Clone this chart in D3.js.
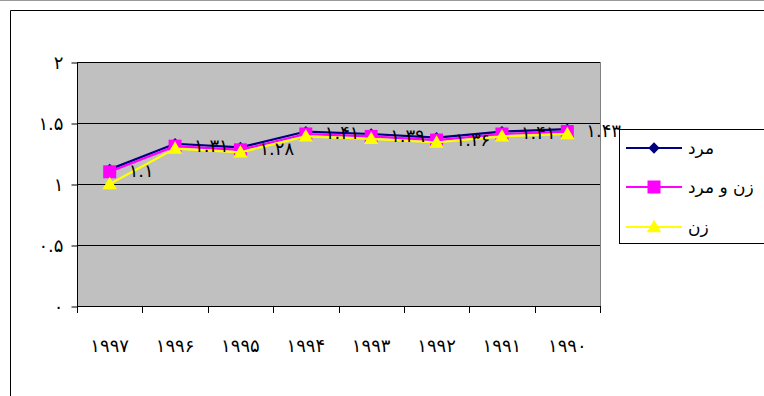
<!DOCTYPE html>
<html>
<head>
<meta charset="utf-8">
<script src="https://cdn.jsdelivr.net/npm/d3@7"></script>
<style>
  html, body { margin: 0; padding: 0; background: #fff; }
  svg { display: block; }
  text { font-family: "DejaVu Sans", sans-serif; fill: #000; }
</style>
</head>
<body>
<svg id="chart" width="764" height="396"></svg>
<script>
// Years, newest first (left to right)
const categories = ["۱۹۹۷", "۱۹۹۶", "۱۹۹۵", "۱۹۹۴", "۱۹۹۳", "۱۹۹۲", "۱۹۹۱", "۱۹۹۰"];

// Series values
const menValues   = [1.12, 1.33, 1.30, 1.43, 1.41, 1.38, 1.43, 1.45]; // مرد
const bothValues  = [1.10, 1.31, 1.28, 1.41, 1.39, 1.36, 1.41, 1.43]; // زن و مرد
const womenValues = [1.00, 1.29, 1.26, 1.39, 1.37, 1.34, 1.39, 1.41]; // زن

const seriesNames = ["مرد", "زن و مرد", "زن"];

const yTickValues = [0, 0.5, 1, 1.5, 2];
const yTickLabels = ["۰", "۰.۵", "۱", "۱.۵", "۲"];

const faDigits = "۰۱۲۳۴۵۶۷۸۹";
const toFa = s => String(s).replace(/[0-9]/g, d => faDigits[+d]);

const svg = d3.select("#chart");

// outer frame
svg.append("line").attr("x1", 0).attr("x2", 764).attr("y1", 0.5).attr("y2", 0.5)
  .attr("stroke", "#9a9a9a");
svg.append("path").attr("d", "M10.5,396V10.5H764")
  .attr("fill", "none").attr("stroke", "#000");

const plot = { left: 77, right: 600, top: 62, bottom: 306 };

const x = d3.scaleBand().domain(categories).range([plot.left, plot.right]).padding(0);
const y = d3.scaleLinear().domain([0, 2]).range([plot.bottom, plot.top]);
const cx = c => x(c) + x.bandwidth() / 2;

// plot background
svg.append("rect")
  .attr("x", plot.left).attr("y", plot.top)
  .attr("width", plot.right - plot.left).attr("height", plot.bottom - plot.top)
  .attr("fill", "#c0c0c0");
svg.append("line")
  .attr("x1", plot.right + 0.5).attr("x2", plot.right + 0.5)
  .attr("y1", plot.top).attr("y2", plot.bottom)
  .attr("stroke", "#808080");

// horizontal gridlines
svg.append("g").selectAll("line")
  .data(yTickValues.filter(v => v > 0))
  .join("line")
  .attr("x1", plot.left).attr("x2", plot.right)
  .attr("y1", d => Math.round(y(d)) + 0.5).attr("y2", d => Math.round(y(d)) + 0.5)
  .attr("stroke", "#000");

// y axis
const yAxis = svg.append("g")
  .attr("transform", `translate(${plot.left + 0.5},0.5)`)
  .call(d3.axisLeft(y).tickValues(yTickValues)
    .tickFormat((d, i) => yTickLabels[i]).tickSize(6).tickSizeOuter(0).tickPadding(8));
yAxis.select(".domain").attr("d", `M0,${plot.top}V${plot.bottom + 6}`).attr("stroke", "#000");
yAxis.selectAll(".tick line").attr("stroke", "#000");
yAxis.selectAll("text").attr("font-size", 18).attr("font-family", "DejaVu Sans");

// x axis: line, boundary ticks, year labels
const xg = svg.append("g");
xg.append("line")
  .attr("x1", plot.left).attr("x2", plot.right + 1)
  .attr("y1", plot.bottom + 0.5).attr("y2", plot.bottom + 0.5)
  .attr("stroke", "#000");
const boundaries = categories.map(c => x(c)).concat([plot.right]);
xg.selectAll("line.tk").data(boundaries).join("line").attr("class", "tk")
  .attr("x1", d => Math.round(d) + 0.5).attr("x2", d => Math.round(d) + 0.5)
  .attr("y1", plot.bottom).attr("y2", plot.bottom + 7)
  .attr("stroke", "#000");
xg.selectAll("text").data(categories).join("text")
  .attr("x", d => cx(d)).attr("y", 352)
  .attr("text-anchor", "middle").attr("font-size", 18)
  .text(d => d);

// series
const series = [
  { name: seriesNames[0], values: menValues,   color: "#000080", marker: "diamond" },
  { name: seriesNames[1], values: bothValues,  color: "#ff00ff", marker: "square" },
  { name: seriesNames[2], values: womenValues, color: "#ffff00", marker: "triangle" }
];
const markerPath = {
  diamond: d3.symbol().type(d3.symbolSquare).size(64)(),
  square: d3.symbol().type(d3.symbolSquare).size(169)(),
  triangle: d3.symbol().type(d3.symbolTriangle).size(90)()
};
const markerTransform = (m, px, py) =>
  m === "diamond" ? `translate(${px},${py}) rotate(45)` :
  m === "triangle" ? `translate(${px},${py + 1})` : `translate(${px},${py})`;

const line = d3.line().x((d, i) => cx(categories[i])).y(d => y(d));

series.forEach(s => {
  const g = svg.append("g");
  g.append("path").datum(s.values)
    .attr("d", line).attr("fill", "none")
    .attr("stroke", s.color).attr("stroke-width", 2.2);
  g.selectAll("path.m").data(s.values).join("path").attr("class", "m")
    .attr("transform", (d, i) => markerTransform(s.marker, cx(categories[i]), y(d)))
    .attr("d", markerPath[s.marker])
    .attr("fill", s.color);
});

// value labels for the combined series
svg.append("g").selectAll("text").data(bothValues).join("text")
  .attr("x", (d, i) => cx(categories[i]) + 19)
  .attr("y", d => y(d) - 1)
  .attr("dominant-baseline", "central")
  .attr("font-size", 18)
  .text(d => toFa(d));

// legend
const lg = svg.append("g");
lg.append("rect")
  .attr("x", 619.5).attr("y", 129.5).attr("width", 170).attr("height", 114)
  .attr("fill", "#fff").attr("stroke", "#000");
const rowsY = [148, 187, 227];
series.forEach((s, i) => {
  lg.append("line")
    .attr("x1", 626).attr("x2", 682).attr("y1", rowsY[i]).attr("y2", rowsY[i])
    .attr("stroke", s.color).attr("stroke-width", 2.2);
  lg.append("path")
    .attr("transform", markerTransform(s.marker, 654, rowsY[i]))
    .attr("d", markerPath[s.marker])
    .attr("fill", s.color);
  lg.append("text")
    .attr("x", 688).attr("y", rowsY[i])
    .attr("dominant-baseline", "central")
    .attr("font-size", 17)
    .text(s.name);
});
</script>
</body>
</html>
